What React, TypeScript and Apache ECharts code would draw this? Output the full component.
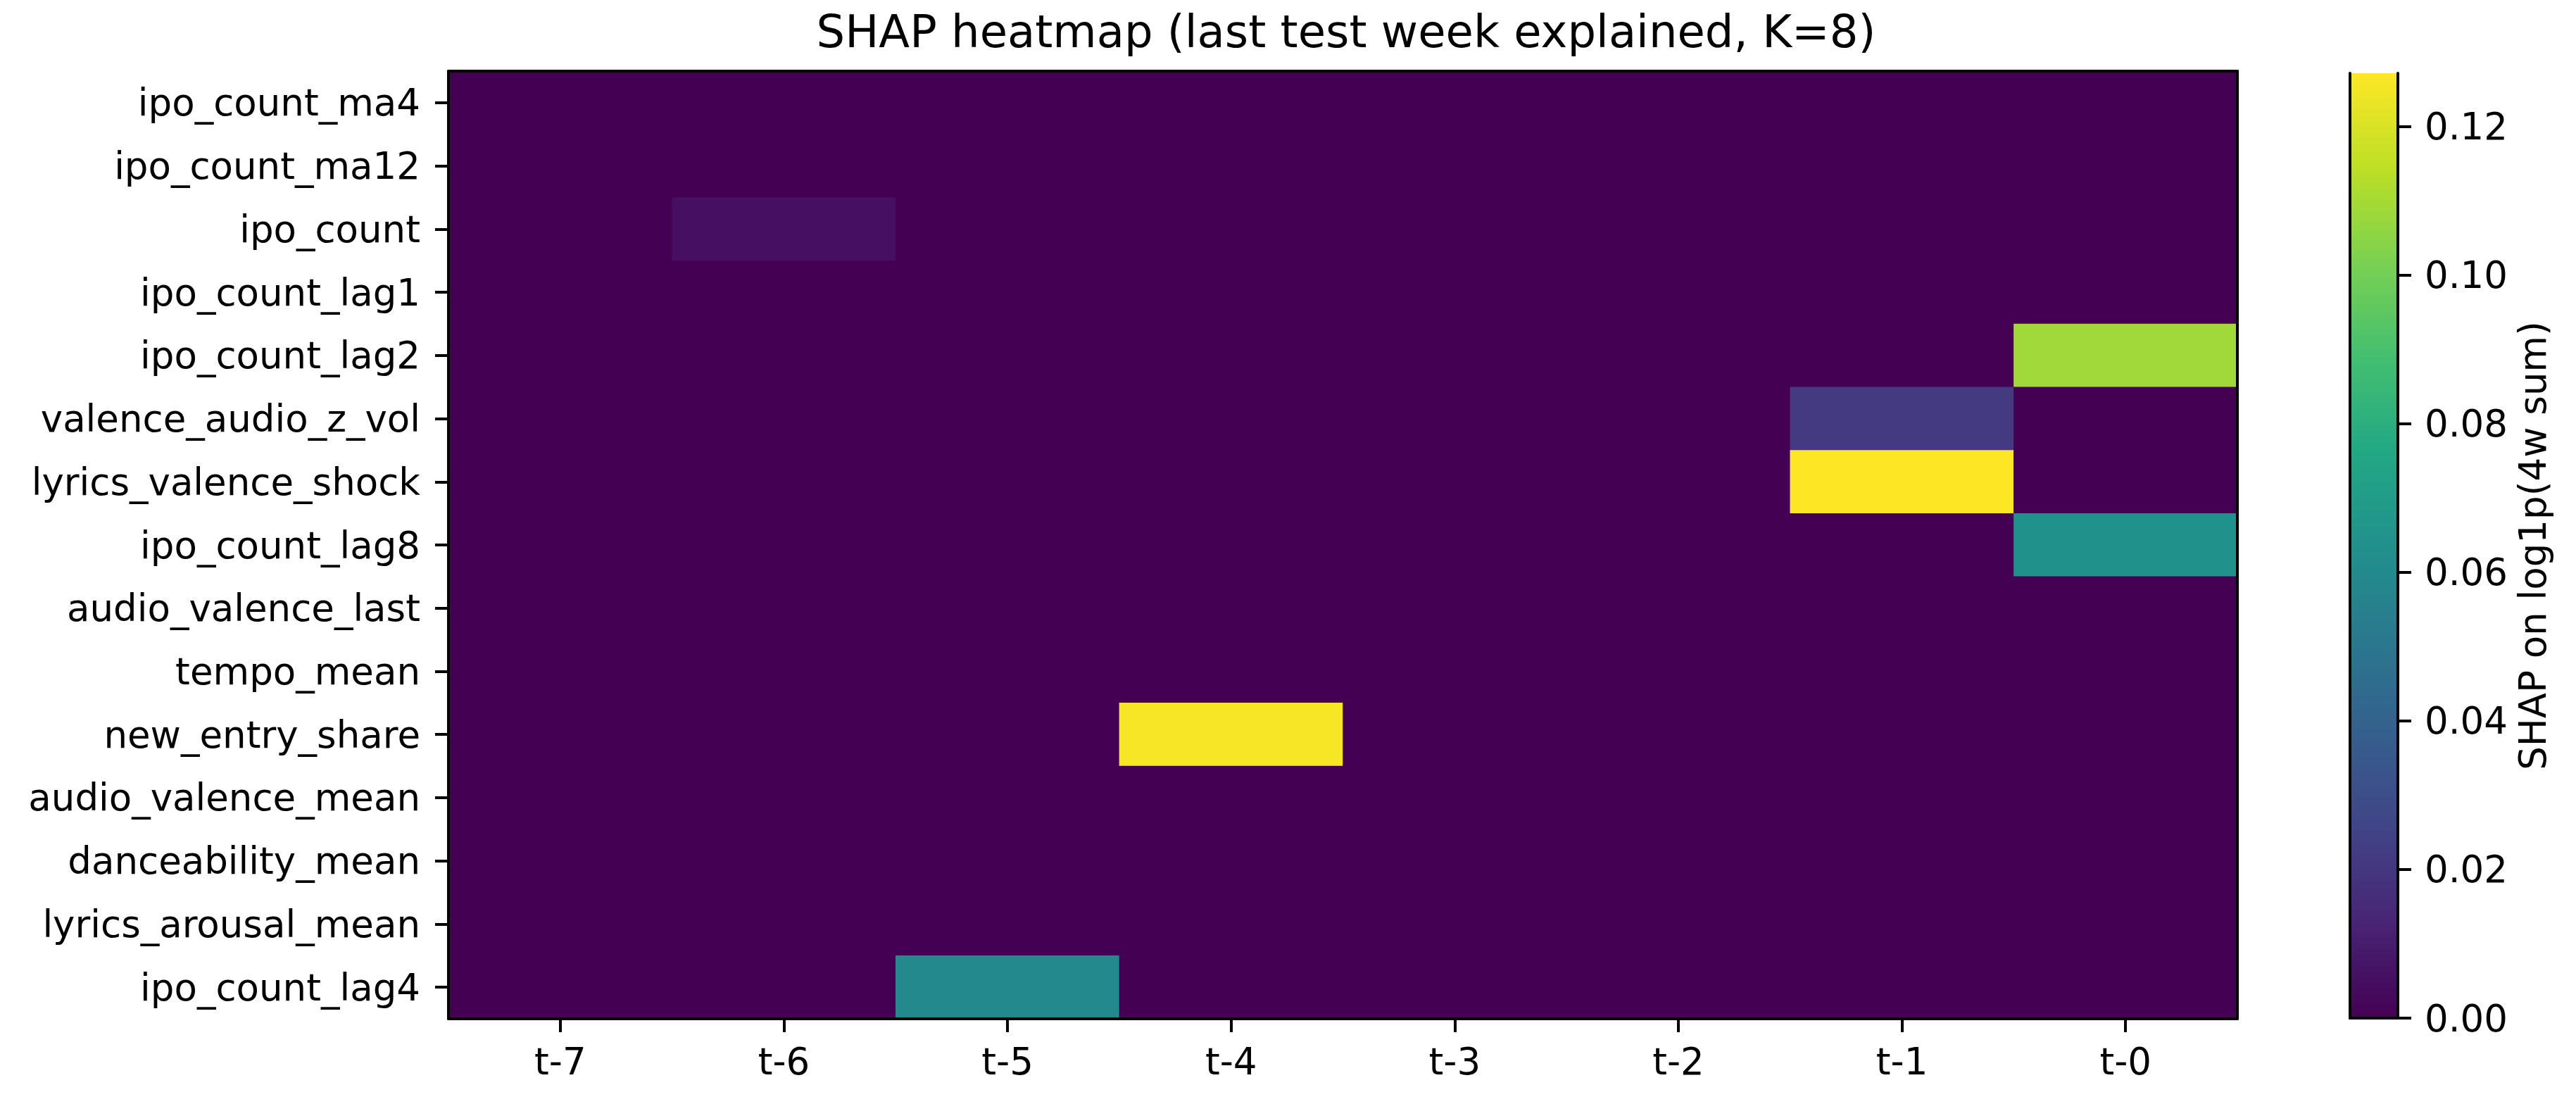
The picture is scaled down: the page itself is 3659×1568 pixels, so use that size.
import React, { useEffect, useRef } from "react";
import * as echarts from "echarts";

const weeks = ["t-7", "t-6", "t-5", "t-4", "t-3", "t-2", "t-1", "t-0"];

const features = [
  "ipo_count_ma4",
  "ipo_count_ma12",
  "ipo_count",
  "ipo_count_lag1",
  "ipo_count_lag2",
  "valence_audio_z_vol",
  "lyrics_valence_shock",
  "ipo_count_lag8",
  "audio_valence_last",
  "tempo_mean",
  "new_entry_share",
  "audio_valence_mean",
  "danceability_mean",
  "lyrics_arousal_mean",
  "ipo_count_lag4",
];

// one row per feature, columns t-7 ... t-0
const shapValues: number[][] = [
  [0, 0, 0, 0, 0, 0, 0, 0],
  [0, 0, 0, 0, 0, 0, 0, 0],
  [0, 0.005, 0, 0, 0, 0, 0, 0],
  [0, 0, 0, 0, 0, 0, 0, 0],
  [0, 0, 0, 0, 0, 0, 0, 0.109],
  [0, 0, 0, 0, 0, 0, 0.0215, 0],
  [0, 0, 0, 0, 0, 0, 0.1272, 0],
  [0, 0, 0, 0, 0, 0, 0, 0.0636],
  [0, 0, 0, 0, 0, 0, 0, 0],
  [0, 0, 0, 0, 0, 0, 0, 0],
  [0, 0, 0, 0.126, 0, 0, 0, 0],
  [0, 0, 0, 0, 0, 0, 0, 0],
  [0, 0, 0, 0, 0, 0, 0, 0],
  [0, 0, 0, 0, 0, 0, 0, 0],
  [0, 0, 0.0595, 0, 0, 0, 0, 0],
];

const colorbarTicks = [0, 0.02, 0.04, 0.06, 0.08, 0.1, 0.12];
const vMin = 0;
const vMax = 0.1272;

const viridis = [
  "#440154", "#482475", "#414487", "#355f8d", "#2a788e", "#21918c",
  "#22a884", "#44bf70", "#7ad151", "#bddf26", "#fde725",
];

const FONT = "DejaVu Sans";
const LINE = { show: true, lineStyle: { color: "#000", width: 4 } };

export default function App() {
  const ref = useRef<HTMLDivElement>(null);
  useEffect(() => {
    const chart = echarts.init(ref.current!, null, { renderer: "svg" });
    const data: [number, number, number][] = [];
    shapValues.forEach((row, yi) => row.forEach((v, xi) => data.push([xi, yi, v])));

    const lineOnlyCat = (gridIndex: number, position: string, cats: string[], extra: any = {}) => ({
      gridIndex,
      type: "category",
      position,
      data: cats,
      z: 10,
      axisLine: LINE,
      axisTick: { show: false },
      axisLabel: { show: false },
      splitLine: { show: false },
      ...extra,
    });

    chart.setOption({
      animation: false,
      backgroundColor: "#fff",
      textStyle: { fontFamily: FONT },
      title: {
        text: "SHAP heatmap (last test week explained, K=8)",
        left: 1907,
        top: 8,
        textAlign: "center",
        textStyle: { fontFamily: FONT, fontSize: 64, fontWeight: "normal", color: "#000" },
      },
      grid: [
        {
          left: 637, right: 481, top: 101, bottom: 121,
          show: true, backgroundColor: viridis[0], borderWidth: 0,
        },
        { left: 3338, width: 68, top: 104, bottom: 122 },
      ],
      xAxis: [
        {
          gridIndex: 0,
          type: "category",
          position: "bottom",
          data: weeks,
          z: 10,
          axisLine: LINE,
          axisTick: { show: true, alignWithLabel: true, length: 19, lineStyle: { color: "#000", width: 4 } },
          axisLabel: { fontFamily: FONT, fontSize: 53, color: "#000", margin: 34 },
          splitLine: { show: false },
        },
        lineOnlyCat(0, "top", weeks),
        lineOnlyCat(1, "bottom", ["cb"]),
        lineOnlyCat(1, "top", ["cb"]),
      ],
      yAxis: [
        {
          gridIndex: 0,
          type: "category",
          position: "left",
          data: features,
          inverse: true,
          z: 10,
          axisLine: LINE,
          axisTick: { show: true, alignWithLabel: true, length: 19, lineStyle: { color: "#000", width: 4 } },
          axisLabel: { fontFamily: FONT, fontSize: 53, color: "#000", margin: 40 },
          splitLine: { show: false },
        },
        lineOnlyCat(0, "right", features, { inverse: true }),
        {
          gridIndex: 1,
          type: "value",
          position: "left",
          min: vMin,
          max: vMax,
          z: 10,
          axisLine: LINE,
          axisTick: { show: false },
          axisLabel: { show: false },
          splitLine: { show: false },
        },
        {
          gridIndex: 1,
          type: "value",
          position: "right",
          min: vMin,
          max: vMax,
          z: 10,
          axisLine: LINE,
          axisTick: {
            show: true,
            length: 19,
            customValues: colorbarTicks,
            lineStyle: { color: "#000", width: 4 },
          },
          axisLabel: {
            fontFamily: FONT,
            fontSize: 53,
            color: "#000",
            margin: 38,
            customValues: colorbarTicks,
            formatter: (v: number) => v.toFixed(2),
          },
          splitLine: { show: false },
          name: "SHAP on log1p(4w sum)",
          nameLocation: "middle",
          nameRotate: 90,
          nameGap: 165,
          nameTextStyle: { fontFamily: FONT, fontSize: 53, color: "#000" },
        },
      ],
      visualMap: {
        show: false,
        type: "continuous",
        min: vMin,
        max: vMax,
        seriesIndex: 0,
        dimension: 2,
        inRange: { color: viridis },
      },
      series: [
        {
          type: "heatmap",
          xAxisIndex: 0,
          yAxisIndex: 0,
          data,
          itemStyle: { borderWidth: 0 },
          emphasis: { disabled: true },
        },
        {
          type: "bar",
          xAxisIndex: 2,
          yAxisIndex: 3,
          data: [vMax],
          barWidth: "100%",
          silent: true,
          itemStyle: {
            color: new echarts.graphic.LinearGradient(
              0, 1, 0, 0,
              viridis.map((c, i) => ({ offset: i / (viridis.length - 1), color: c }))
            ),
          },
        },
      ],
    });
    return () => chart.dispose();
  }, []);
  return (
    <div
      ref={ref}
      style={{ position: "fixed", left: 0, top: 0, width: 3659, height: 1568 }}
    />
  );
}
